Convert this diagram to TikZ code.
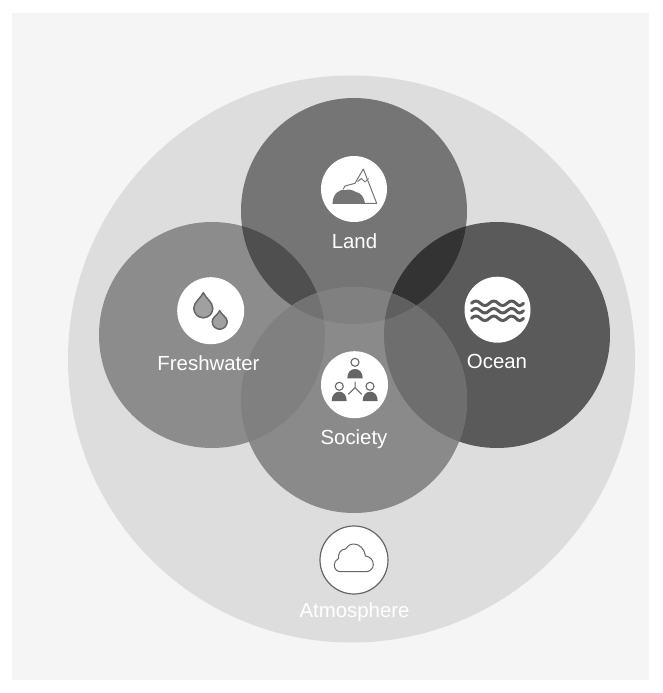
\documentclass[tikz,border=0pt]{standalone}
\usepackage{fontspec}
\setmainfont{Liberation Sans}
\definecolor{panelbg}{HTML}{F5F5F5}
\definecolor{atmosc}{HTML}{DDDDDD}
\definecolor{landc}{HTML}{757575}
\definecolor{freshc}{HTML}{8C8C8C}
\definecolor{oceanc}{HTML}{5A5A5A}
\definecolor{socc}{HTML}{8A8A8A}
\definecolor{lfc}{HTML}{4F4F4F}
\definecolor{loc}{HTML}{333333}
\definecolor{slc}{HTML}{808080}
\definecolor{sfc}{HTML}{808080}
\definecolor{soc}{HTML}{6E6E6E}
\definecolor{slfc}{HTML}{727272}
\definecolor{sloc}{HTML}{5F5F5F}
\definecolor{iconline}{HTML}{666666}
\definecolor{dropc}{HTML}{A0A0A0}
\tikzset{
  label text/.style={text=white,font=\fontsize{20.4}{24}\selectfont,anchor=base,inner sep=0pt},
  badge/.style={fill=white},
  wave/.style={draw=oceanc,line width=3pt,line cap=round},
  person/.style={draw=iconline,line width=1.1pt,fill=white},
  body/.style={fill=iconline},
  drop/.style={draw=iconline,fill=dropc,line width=1.5pt,line join=round},
}
\def\Land{(354,211) circle[radius=113pt]}
\def\Fresh{(212,335) circle[radius=113pt]}
\def\Ocean{(497,335) circle[radius=113pt]}
\def\Soc{(354,400) circle[radius=113pt]}
\begin{document}
\begin{tikzpicture}[x=1pt,y=-1pt]
\useasboundingbox (0,0) rectangle (662,693);
\fill[panelbg] (12,13) rectangle (649,680);
\fill[atmosc] (351.5,359) circle[radius=283.5pt];
\fill[freshc] \Fresh;
\fill[oceanc] \Ocean;
\fill[landc] \Land;
\begin{scope}\clip \Land; \fill[lfc] \Fresh; \fill[loc] \Ocean; \end{scope}
\fill[socc] \Soc;
\begin{scope}\clip \Soc; \fill[slc] \Land; \fill[sfc] \Fresh; \fill[soc] \Ocean;
  \begin{scope}\clip \Land; \fill[slfc] \Fresh; \fill[sloc] \Ocean; \end{scope}
\end{scope}
% land badge
\fill[badge] (354,189) circle[radius=33pt];
\fill[landc] (332.5,203.3) .. controls (333,193) and (340,189) .. (345,190) .. controls (350,189) and (353,190) .. (356,192) .. controls (361,193) and (364,197) .. (365,203.3) -- cycle;
\draw[landc,line width=1pt,line join=round] (332.5,203.3) -- (376.7,203.3) -- (363.3,169) -- (355,183.3) -- (345,186) -- (343,189.5);
\draw[landc,line width=1pt,line join=round] (357.5,181.5) -- (361.5,178.5) -- (365,182) -- (368.5,178.5);
% freshwater badge
\fill[badge] (210.7,310.7) circle[radius=33.5pt];
\draw[drop] (203.3,292.7) .. controls (205.5,298) and (212.8,302) .. (212.8,308.3)
  .. controls (212.8,313.5) and (208.5,317.8) .. (203.3,317.8)
  .. controls (198.1,317.8) and (193.8,313.5) .. (193.8,308.3)
  .. controls (193.8,302) and (201.1,298) .. cycle;
\draw[drop] (219.7,310.7) .. controls (221.5,315) and (227.2,317) .. (227.2,321.7)
  .. controls (227.2,325.8) and (223.8,329.2) .. (219.7,329.2)
  .. controls (215.6,329.2) and (212.2,325.8) .. (212.2,321.7)
  .. controls (212.2,317) and (217.9,315) .. cycle;
% ocean badge
\fill[badge] (497.5,309.7) circle[radius=33pt];
\foreach \yy in {303.3,310.7,318.3}{
  \draw[wave] (471.5,\yy) .. controls (474.5,\yy-3) and (477.5,\yy-3) .. (480.4,\yy)
    .. controls (483.4,\yy+3) and (486.4,\yy+3) .. (489.3,\yy)
    .. controls (492.3,\yy-3) and (495.3,\yy-3) .. (498.2,\yy)
    .. controls (501.2,\yy+3) and (504.2,\yy+3) .. (507.1,\yy)
    .. controls (510.1,\yy-3) and (513.1,\yy-3) .. (516,\yy)
    .. controls (518,\yy+3) and (521,\yy+3) .. (523.5,\yy);
}
% society badge
\fill[badge] (354.5,384.7) circle[radius=33.5pt];
\draw[person] (355,362.3) circle[radius=4pt];
\draw[person] (339.3,386.3) circle[radius=4pt];
\draw[person] (370,386.3) circle[radius=4pt];
\fill[body] (347.3,378.3) .. controls (347.3,372) and (351,369) .. (355,369) .. controls (359,369) and (362.7,372) .. (362.7,378.3) -- cycle;
\fill[body] (331.7,401) .. controls (331.7,395) and (335,391.7) .. (339.2,391.7) .. controls (343.4,391.7) and (346.7,395) .. (346.7,401) -- cycle;
\fill[body] (362.7,401) .. controls (362.7,395) and (366,391.7) .. (370.2,391.7) .. controls (374.4,391.7) and (377.7,395) .. (377.7,401) -- cycle;
\draw[iconline,line width=1pt] (355,381.7) -- (355,387.7) (348.3,394.3) -- (355,387.7) -- (361.7,394.3);
% atmosphere badge
\draw[iconline,line width=1.2pt,fill=white] (354,560) circle[radius=34pt];
\draw[iconline,line width=1pt,line join=round] (340.5,571.7) -- (366,571.7)
  .. controls (370.5,571.7) and (373.3,568) .. (373.3,564.5)
  .. controls (373.3,560) and (370,556.5) .. (365.5,556)
  .. controls (364.5,549) and (359.5,544) .. (354,544)
  .. controls (350,544) and (347,546) .. (345.5,549)
  .. controls (341,549) and (338,553) .. (338.5,558.5)
  .. controls (335.5,560) and (334.3,562.5) .. (334.3,565)
  .. controls (334.3,569) and (337,571.7) .. (340.5,571.7) -- cycle;
% labels
\node[label text] (landl) at (354.5,248) {Land};
\node[label text] (freshl) at (208.5,370.5) {Freshwater};
\node[label text] (oceanl) at (497,368) {Ocean};
\node[label text] (socl) at (354,444.5) {Society};
\node[label text] (atmosl) at (354.5,617.5) {Atmosphere};
\end{tikzpicture}
\end{document}
